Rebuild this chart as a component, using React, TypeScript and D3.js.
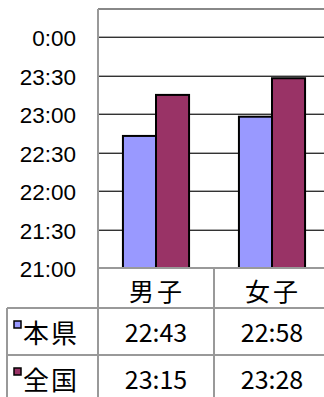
import React from "react";
import * as d3 from "d3";

const categories = ["男子", "女子"];
const seriesNames = ["本県", "全国"];
const seriesColors = ["#9999FF", "#993366"];
const honken = ["22:43", "22:58"];
const zenkoku = ["23:15", "23:28"];
const yTickLabels = ["21:00", "21:30", "22:00", "22:30", "23:00", "23:30", "0:00"];

const seriesValues = [honken, zenkoku];

function toMin(s: string): number {
  const [h, m] = s.split(":").map(Number);
  const hh = h < 12 ? h + 24 : h;
  return (hh - 21) * 60 + m;
}

const W = 324;
const H = 397;
const plotLeft = 98;
const plotRight = 330;
const plotTop = 9;
const plotBottom = 268;
const tableLeft = 7;
const row0Bottom = 308;
const row1Bottom = 355;
const row2Bottom = 402;

export default function App() {
  const y = d3.scaleLinear().domain([0, 202]).range([plotBottom, plotTop]);
  const x0 = d3.scaleBand<string>().domain(categories).range([plotLeft, plotRight]).padding(0);
  const groupW = x0.bandwidth() * 0.57;
  const x1 = d3.scaleBand<string>().domain(seriesNames).range([0, groupW]).padding(0);
  const gridStroke = "#333";
  const tableStroke = "#999";
  const jp = "'Noto Sans CJK JP', sans-serif";

  return (
    <svg width={W} height={H} style={{ position: "absolute", left: 0, top: 0, background: "#fff" }}>
      <rect x={0} y={0} width={W} height={H} fill="#fff" />
      {/* gridlines */}
      {yTickLabels.map((t, i) => {
        const yy = Math.round(y(toMin(t)));
        if (i === 0) return null;
        return (
          <g key={t}>
            <line x1={plotLeft} x2={plotRight} y1={yy - 0.5} y2={yy - 0.5} stroke="#aaa" strokeWidth={1} />
            <line x1={plotLeft} x2={plotRight} y1={yy + 0.5} y2={yy + 0.5} stroke={gridStroke} strokeWidth={1} />
          </g>
        );
      })}
      {/* top border */}
      <line x1={plotLeft} x2={plotRight} y1={plotTop} y2={plotTop} stroke="#888" strokeWidth={2} />
      {/* y labels */}
      {yTickLabels.map((t) => (
        <text
          key={t}
          x={76}
          y={y(toMin(t)) + 1.5}
          textAnchor="end"
          dominantBaseline="central"
          fontFamily="'Liberation Sans', Arial, sans-serif"
          fontSize={22.5}
          fill="#000"
        >
          {t}
        </text>
      ))}
      {/* bars */}
      {categories.map((c, ci) => {
        const gx = (x0(c) as number) + (x0.bandwidth() - groupW) / 2;
        return seriesNames.map((s, si) => {
          const v = toMin(seriesValues[si][ci]);
          const bx = gx + (x1(s) as number);
          return (
            <rect
              key={c + s}
              x={bx}
              y={y(v)}
              width={x1.bandwidth()}
              height={plotBottom - y(v)}
              fill={seriesColors[si]}
              stroke="#000"
              strokeWidth={2}
            />
          );
        });
      })}
      {/* axis bottom line and table lines */}
      <line x1={plotLeft} x2={plotRight} y1={plotBottom} y2={plotBottom} stroke={tableStroke} strokeWidth={2} />
      <line x1={tableLeft} x2={plotRight} y1={row0Bottom} y2={row0Bottom} stroke={tableStroke} strokeWidth={2} />
      <line x1={tableLeft} x2={plotRight} y1={row1Bottom} y2={row1Bottom} stroke={tableStroke} strokeWidth={2} />
      <line x1={tableLeft} x2={tableLeft} y1={row0Bottom} y2={row2Bottom} stroke={tableStroke} strokeWidth={2} />
      <line x1={plotLeft} x2={plotLeft} y1={plotTop} y2={row2Bottom} stroke={tableStroke} strokeWidth={2} />
      <line x1={x0(categories[1]) as number} x2={x0(categories[1]) as number} y1={plotBottom} y2={row2Bottom} stroke={tableStroke} strokeWidth={2} />
      {/* header */}
      {categories.map((c) => (
        <text
          key={c}
          x={(x0(c) as number) + x0.bandwidth() / 2 + 1}
          y={290}
          textAnchor="middle"
          dominantBaseline="central"
          fontFamily={jp}
          fontSize={25}
          letterSpacing={3}
          fill="#000"
        >
          {c}
        </text>
      ))}
      {/* rows */}
      {seriesNames.map((s, si) => {
        const top = si === 0 ? row0Bottom : row1Bottom;
        const cy = top + 23;
        return (
          <g key={s}>
            <rect x={14} y={top + 13} width={7} height={7} fill={seriesColors[si]} stroke="#000" strokeWidth={1.5} />
            <text
              x={23}
              y={cy}
              dominantBaseline="central"
              fontFamily={jp}
              fontSize={26}
              letterSpacing={2}
              fill="#000"
            >
              {s}
            </text>
            {categories.map((c, ci) => (
              <text
                key={c}
                x={(x0(c) as number) + x0.bandwidth() / 2}
                y={cy}
                textAnchor="middle"
                dominantBaseline="central"
                fontFamily={jp}
                fontSize={25}
                fill="#000"
              >
                {seriesValues[si][ci]}
              </text>
            ))}
          </g>
        );
      })}
    </svg>
  );
}
